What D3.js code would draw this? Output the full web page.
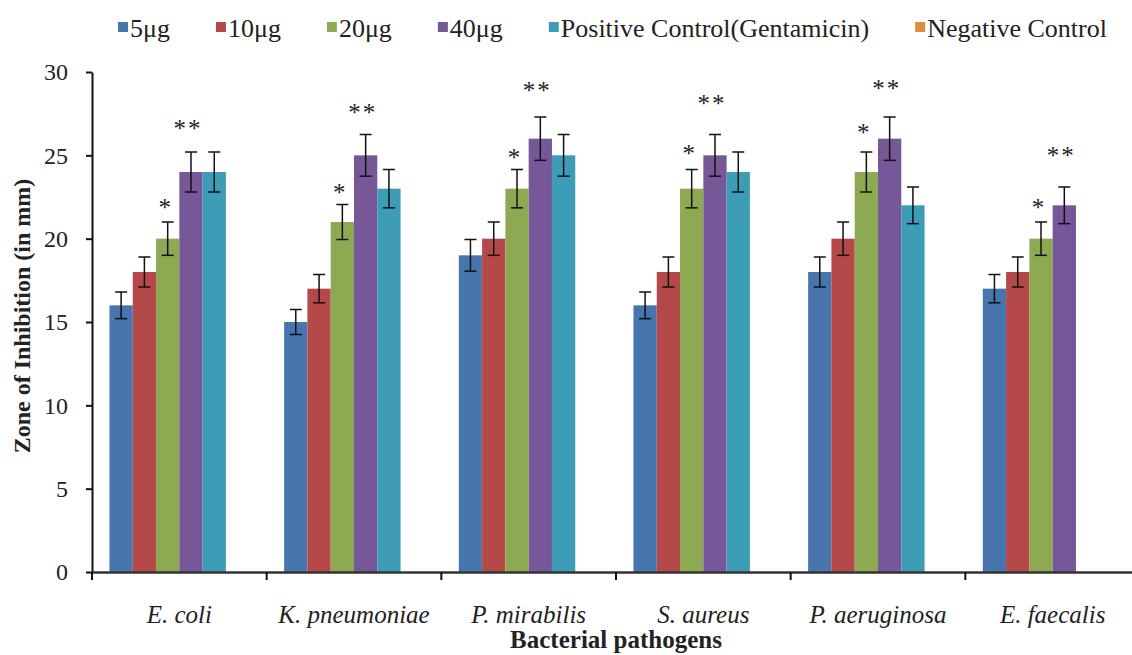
<!DOCTYPE html>
<html>
<head>
<meta charset="utf-8">
<script src="https://cdn.jsdelivr.net/npm/d3@7"></script>
<style>
  body { margin: 0; background: #fff; }
  svg text { font-family: "Liberation Serif", "Times New Roman", serif; fill: #222; }
</style>
</head>
<body>
<div id="chart"></div>
<script>
const categories = ['E. coli', 'K. pneumoniae', 'P. mirabilis', 'S. aureus', 'P. aeruginosa', 'E. faecalis'];
const seriesNames = ['5μg', '10μg', '20μg', '40μg', 'Positive Control(Gentamicin)', 'Negative Control'];
const colors = ['#4775ae', '#b5494a', '#8daa52', '#765899', '#3e9db6', '#e08b3f'];

// values (mm)
const dose5 = [16, 15, 19, 16, 18, 17];
const dose10 = [18, 17, 20, 18, 20, 18];
const dose20 = [20, 21, 23, 23, 24, 20];
const dose40 = [24, 25, 26, 25, 26, 22];
const positive = [24, 23, 25, 24, 22, null];
const negative = [0, 0, 0, 0, 0, 0];

// error bar half-lengths
const err5 = [0.8, 0.75, 0.95, 0.8, 0.9, 0.85];
const err10 = [0.9, 0.85, 1.0, 0.9, 1.0, 0.9];
const err20 = [1.0, 1.05, 1.15, 1.15, 1.2, 1.0];
const err40 = [1.2, 1.25, 1.3, 1.25, 1.3, 1.1];
const errPos = [1.2, 1.15, 1.25, 1.2, 1.1, null];
const errNeg = [null, null, null, null, null, null];

// significance marks (centre height, in mm)
const oneStarY = [22.1, 23.0, 25.1, 25.3, 26.6, 22.1];
const twoStarY = [26.8, 27.8, 29.1, 28.3, 29.2, 25.2];

const yTicks = [0, 5, 10, 15, 20, 25, 30];

const allValues = [dose5, dose10, dose20, dose40, positive, negative];
const allErrors = [err5, err10, err20, err40, errPos, errNeg];

const serif = '"Liberation Serif", "Times New Roman", serif';

const width = 1132;
const height = 655;
const margin = {top: 72, left: 92, bottom: 83, right: -8};

const x = d3.scaleBand()
    .domain(categories)
    .range([margin.left, width - margin.right]);

const x1 = d3.scaleBand()
    .domain(seriesNames)
    .range([0, x.bandwidth()])
    .paddingInner(0)
    .paddingOuter(0.75);

const y = d3.scaleLinear()
    .domain([0, 30])
    .range([height - margin.bottom, margin.top]);

const svg = d3.select('#chart').append('svg')
    .attr('width', width).attr('height', height)
    .attr('font-family', serif);

// bars
let bars = [];
categories.forEach((c, i) => {
    seriesNames.forEach((s, j) => {
        const v = allValues[j][i];
        if (v === null) return;
        bars.push({cat: c, ser: s, j: j, value: v, err: allErrors[j][i]});
    });
});

svg.append('g')
    .selectAll('rect').data(bars).enter().append('rect')
    .attr('x', d => x(d.cat) + x1(d.ser))
    .attr('y', d => y(d.value))
    .attr('width', x1.bandwidth())
    .attr('height', d => y(0) - y(d.value))
    .attr('fill', d => colors[d.j]);

// error bars
const eb = svg.append('g').attr('stroke', '#111').attr('stroke-width', 1.5);
bars.filter(d => d.err).forEach(d => {
    const cx = x(d.cat) + x1(d.ser) + x1.bandwidth() / 2;
    eb.append('line').attr('x1', cx).attr('x2', cx)
        .attr('y1', y(d.value + d.err)).attr('y2', y(d.value - d.err));
    eb.append('line').attr('x1', cx - 6).attr('x2', cx + 6)
        .attr('y1', y(d.value + d.err)).attr('y2', y(d.value + d.err));
    eb.append('line').attr('x1', cx - 6).attr('x2', cx + 6)
        .attr('y1', y(d.value - d.err)).attr('y2', y(d.value - d.err));
});

// stars
const stars = svg.append('g').attr('text-anchor', 'middle')
    .style('font-family', serif).style('font-size', '25px');
categories.forEach((c, i) => {
    stars.append('text')
        .attr('x', x(c) + x1(seriesNames[2]) + x1.bandwidth() / 2 - 3)
        .attr('y', y(oneStarY[i]) + 12)
        .text('*');
    stars.append('text')
        .attr('x', x(c) + x1(seriesNames[3]) + x1.bandwidth() / 2 - 3)
        .attr('y', y(twoStarY[i]) + 12)
        .attr('letter-spacing', 2)
        .text('**');
});

// y axis
const yAxis = g => g
    .attr('transform', `translate(${margin.left}, 0)`)
    .call(d3.axisLeft(y).tickValues(yTicks).tickSize(6).tickPadding(18).tickSizeOuter(0))
    .attr('font-family', serif)
    .call(g => g.select('.domain').attr('stroke', '#111').attr('stroke-width', 2))
    .call(g => g.selectAll('.tick line').attr('stroke', '#111').attr('stroke-width', 2))
    .call(g => g.selectAll('.tick text')
        .style('font-family', serif)
        .style('font-size', '24px').attr('fill', '#333'));
svg.append('g').call(yAxis);

// x axis
const xAxis = g => g
    .attr('transform', `translate(0, ${y(0)})`)
    .call(d3.axisBottom(x).tickSize(0).tickPadding(33).tickSizeOuter(0))
    .attr('font-family', serif)
    .call(g => g.select('.domain').attr('stroke', '#333').attr('stroke-width', 2.5))
    .call(g => g.selectAll('.tick text')
        .style('font-family', serif)
        .style('font-size', '25px').style('font-style', 'italic').attr('fill', '#222'));
svg.append('g').call(xAxis);

svg.append('g').attr('stroke', '#111').attr('stroke-width', 2)
    .selectAll('line').data(categories).enter().append('line')
    .attr('x1', d => x(d)).attr('x2', d => x(d))
    .attr('y1', y(0)).attr('y2', y(0) + 8);

// axis titles
svg.append('text')
    .attr('text-anchor', 'middle')
    .attr('transform', `translate(30, ${(margin.top + y(0)) / 2 - 6}) rotate(-90)`)
    .style('font-family', serif)
    .style('font-size', '24px').style('font-weight', 'bold')
    .attr('fill', '#111')
    .text('Zone of Inhibition  (in mm)');

svg.append('text')
    .attr('text-anchor', 'middle')
    .attr('x', (margin.left + 1140) / 2)
    .attr('y', 648)
    .style('font-family', serif)
    .style('font-size', '25px').style('font-weight', 'bold')
    .attr('fill', '#111')
    .text('Bacterial pathogens');

// legend
const legend = svg.append('g');
let lx = 118;
seriesNames.forEach((s, j) => {
    legend.append('rect')
        .attr('x', lx).attr('y', 22).attr('width', 10).attr('height', 10)
        .attr('fill', colors[j]);
    const t = legend.append('text')
        .attr('x', lx + 12).attr('y', 37)
        .style('font-family', serif)
        .style('font-size', '26px')
        .text(s);
    lx += 12 + t.node().getComputedTextLength() + 46;
});

svg.node();
</script>
</body>
</html>
